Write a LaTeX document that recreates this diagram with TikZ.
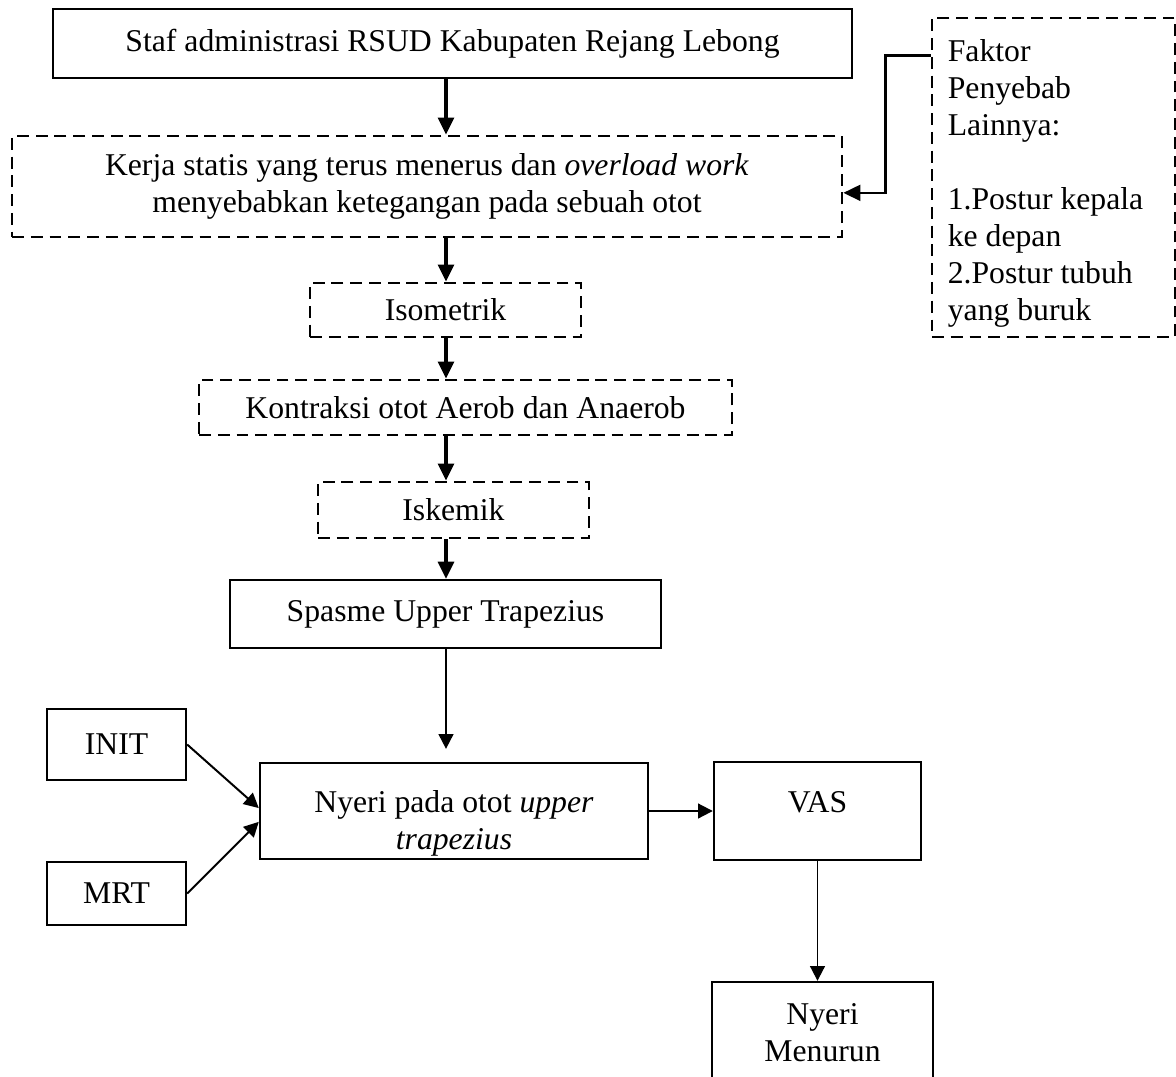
\documentclass[tikz,border=0pt]{standalone}
\usepackage{fontspec}
\setmainfont{Liberation Serif}
\usetikzlibrary{arrows.meta}

\begin{document}
\begin{tikzpicture}[
    x=0.0133cm, y=-0.0133cm,
    font=\fontsize{12}{14}\selectfont,
    box/.style={draw, line width=0.9pt, align=center, inner sep=0pt},
    dashbox/.style={box, line width=1pt, dash pattern=on 4.5pt off 2.6pt},
    bigarrow/.style={line width=1.3pt, -{Triangle[length=6.5pt,width=6pt]}},
    thinarrow/.style={line width=0.75pt, -{Triangle[length=5.6pt,width=5.6pt]}}
]
    \def\px{0.0133cm}
    \useasboundingbox (0,0) rectangle (1176,1077);
    \coordinate (spine) at (446,0);

    \node[box, minimum width=799*\px, minimum height=69*\px] (staf) at (452.5,43.5)
        {Staf administrasi RSUD Kabupaten Rejang Lebong};
    \node[dashbox, minimum width=830*\px, minimum height=101*\px] (kerja) at (427,186.5)
        {Kerja statis yang terus menerus dan \textit{overload work}\\
         menyebabkan ketegangan pada sebuah otot};
    \node[dashbox, minimum width=271*\px, minimum height=54*\px] (iso) at (445.5,310)
        {Isometrik};
    \node[dashbox, minimum width=533*\px, minimum height=55*\px] (kontraksi) at (465.5,407.5)
        {Kontraksi otot Aerob dan Anaerob};
    \node[dashbox, minimum width=271*\px, minimum height=56*\px] (iskemik) at (453.5,510)
        {Iskemik};
    \node[box, minimum width=431*\px, minimum height=68*\px] (spasme) at (445.5,614)
        {Spasme Upper Trapezius};
    \node[box, minimum width=388*\px, minimum height=96*\px] (nyeri) at (454,811)
        {\rule{0pt}{18pt}Nyeri pada otot \textit{upper}\\ \textit{trapezius}};
    \node[box, minimum width=139*\px, minimum height=71*\px] (init) at (116.5,744.5) {INIT};
    \node[box, minimum width=139*\px, minimum height=63*\px] (mrt) at (116.5,893.5) {MRT};
    \node[box, minimum width=207*\px, minimum height=98*\px,
          text height=8pt, text depth=6.8pt] (vas) at (817.5,811) {VAS};
    \node[box, minimum width=221*\px, minimum height=102*\px] (turun) at (822.5,1033)
        {Nyeri\\ Menurun};
    \node[dashbox, align=flush left, text width=80pt, inner xsep=6pt,
          minimum height=319*\px] (faktor) at (1053.5,177.5)
        {\rule{0pt}{12.8pt}Faktor\\ Penyebab\\ Lainnya:\\[14pt]
         1.Postur kepala\\ ke depan\\ 2.Postur tubuh\\ yang buruk};

    \foreach \a/\b in {staf/kerja, kerja/iso, iso/kontraksi, kontraksi/iskemik, iskemik/spasme} {
        \draw[bigarrow] (\a.south -| spine) -- (\b.north -| spine);
    }
    \draw[bigarrow, line width=1pt] ([yshift=-14.7pt]faktor.north west) -- ++(-45,0)
        |- ([yshift=-2.4pt]kerja.east);

    \draw[thinarrow, shorten >=4.9pt] (spasme.south -| spine) -- (nyeri.north -| spine);
    \draw[thinarrow] (init.east) -- ([yshift=1.1pt]nyeri.west);
    \draw[thinarrow] (mrt.east) -- ([yshift=-4.1pt]nyeri.west);
    \draw[thinarrow] (nyeri.east) -- (vas.west);
    \draw[thinarrow] (vas.south) -- (vas.south |- turun.north);
\end{tikzpicture}
\end{document}
